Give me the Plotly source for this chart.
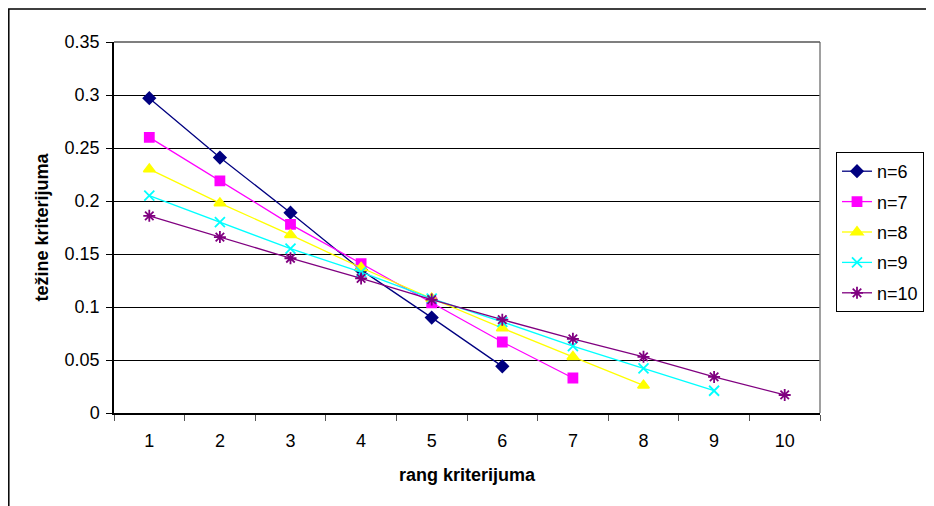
import plotly.graph_objects as go

ranks = [1, 2, 3, 4, 5, 6, 7, 8, 9, 10]
series_names = ["n=6", "n=7", "n=8", "n=9", "n=10"]
w_n6 = [0.297, 0.241, 0.189, 0.135, 0.090, 0.044]
w_n7 = [0.260, 0.219, 0.178, 0.141, 0.104, 0.067, 0.033]
w_n8 = [0.230, 0.198, 0.168, 0.137, 0.108, 0.080, 0.053, 0.026]
w_n9 = [0.205, 0.180, 0.155, 0.133, 0.108, 0.086, 0.063, 0.042, 0.021]
w_n10 = [0.186, 0.166, 0.146, 0.127, 0.107, 0.088, 0.070, 0.053, 0.034, 0.017]
y_ticks = [0, 0.05, 0.1, 0.15, 0.2, 0.25, 0.3, 0.35]
y_tick_labels = ["0", "0.05", "0.1", "0.15", "0.2", "0.25", "0.3", "0.35"]

values = [w_n6, w_n7, w_n8, w_n9, w_n10]
colors = ["#000080", "#FF00FF", "#FFFF00", "#00FFFF", "#800080"]
symbols = ["diamond", "square", "triangle-up", "x-thin-open", "asterisk-open"]
sizes = [9, 9, 10, 10, 10]

fig = go.Figure()
for name, vals, c, s, sz in zip(series_names, values, colors, symbols, sizes):
    fig.add_trace(go.Scatter(
        x=[str(r) for r in ranks[:len(vals)]], y=vals, name=name,
        legendgroup=name,
        mode="lines+markers",
        line=dict(color=c, width=1.3),
        marker=dict(symbol=s, size=sz, color=c, line=dict(color=c, width=1.8)),
    ))

# page body adds an 8px offset; compensate in margins
L, T, PW, PH = 106, 34, 706, 371
fig.update_layout(
    width=934, height=506,
    margin=dict(l=L, r=934 - L - PW, t=T, b=506 - T - PH),
    paper_bgcolor="white", plot_bgcolor="white",
    font=dict(family="Liberation Sans, Arial", size=18, color="black"),
    showlegend=True,
    legend=dict(x=(836 - 114) / PW, y=(413 - 152) / PH, xanchor="left", yanchor="top",
                bordercolor="black", borderwidth=1, bgcolor="white",
                font=dict(size=18), tracegroupgap=4, itemsizing="trace"),
    xaxis=dict(type="category", categoryorder="array",
               categoryarray=[str(r) for r in ranks],
               range=[-0.5, 9.5], tickson="boundaries", ticks="outside",
               ticklen=6, tickcolor="#555555", showgrid=False,
               showline=True, linecolor="black", linewidth=1.5, mirror=False,
               ticklabelstandoff=11,
               title=dict(text="<b>rang kriterijuma</b>", font=dict(size=18), standoff=18),
               tickfont=dict(size=18)),
    yaxis=dict(range=[0, 0.35], tickvals=y_ticks, ticktext=y_tick_labels,
               ticks="outside", ticklen=6, tickcolor="black",
               showgrid=True, gridcolor="black", gridwidth=1,
               showline=True, linecolor="black", linewidth=1.5,
               zeroline=False, ticklabelstandoff=3,
               title=dict(text="<b>težine kriterijuma</b>", font=dict(size=18), standoff=11),
               tickfont=dict(size=18)),
)

# plot area border (right/top) in grey
fig.add_shape(type="line", xref="paper", yref="paper", x0=1, x1=1, y0=0, y1=1,
              line=dict(color="#808080", width=1.5))
fig.add_shape(type="line", xref="paper", yref="paper", x0=0, x1=1, y0=1, y1=1,
              line=dict(color="#555555", width=1.5))
# outer chart border
fig.add_shape(type="rect", xref="paper", yref="paper",
              x0=(0.8 - L) / PW, x1=(960 - L) / PW,
              y0=-0.4, y1=(T + PH - 1.0) / PH,
              line=dict(color="black", width=1.5), layer="below")

fig.write_html("out.html")
